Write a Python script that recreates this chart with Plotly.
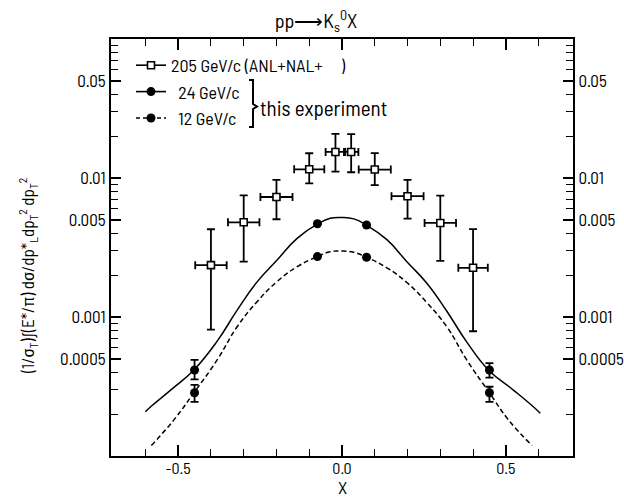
import plotly.graph_objects as go

# ---------------- data ----------------
# 205 GeV/c (ANL+NAL) open squares
x205 = [-0.40, -0.30, -0.20, -0.10, -0.02, 0.028, 0.10, 0.20, 0.30, 0.40]
y205 = [0.00236, 0.0048, 0.0073, 0.01155, 0.0154, 0.0154, 0.0115, 0.0074, 0.00475, 0.00226]
y205_hi = [0.00428, 0.00751, 0.00968, 0.01507, 0.0208, 0.0207, 0.0151, 0.00968, 0.00746, 0.00429]
y205_lo = [0.00081, 0.0025, 0.00505, 0.00916, 0.0111, 0.0110, 0.0089, 0.00511, 0.00253, 0.00079]
xerr205 = [0.048, 0.048, 0.049, 0.046, 0.030, 0.022, 0.049, 0.049, 0.048, 0.045]

# 24 GeV/c (this experiment) filled circles
x24 = [-0.45, -0.075, 0.075, 0.45]
y24 = [0.000416, 0.00469, 0.00459, 0.000416]
y24_up = [0.000075, None, None, 0.00005]
y24_dn = [0.00006, None, None, 0.00005]

# 12 GeV/c (this experiment) filled circles
x12 = [-0.45, -0.075, 0.075, 0.45]
y12 = [0.000285, 0.00272, 0.00269, 0.000285]
y12_up = [0.00004, None, None, 0.00003]
y12_dn = [0.00004, None, None, 0.00004]

# fitted curves
solid_x = [-0.600, -0.584, -0.523, -0.452, -0.381, -0.320, -0.259, -0.198, -0.137, -0.073,
           -0.036, 0.000, 0.036, 0.074, 0.137, 0.198, 0.259, 0.320, 0.381, 0.447, 0.523,
           0.584, 0.605]
solid_y = [0.000208, 0.000226, 0.000298, 0.000416, 0.000670, 0.00112, 0.00179, 0.00257,
           0.00368, 0.00469, 0.00513, 0.00520, 0.00508, 0.00459, 0.00360, 0.00250, 0.00175,
           0.00110, 0.00066, 0.000416, 0.000298, 0.000226, 0.000203]
dashed_x = [-0.582, -0.513, -0.452, -0.381, -0.320, -0.259, -0.198, -0.137, -0.075, -0.036,
            0.000, 0.036, 0.075, 0.137, 0.198, 0.259, 0.320, 0.381, 0.450, 0.508, 0.580]
dashed_y = [0.000119, 0.000182, 0.000285, 0.000491, 0.000851, 0.00129, 0.00180, 0.00230,
            0.00272, 0.00295, 0.00298, 0.00292, 0.00269, 0.00226, 0.00177, 0.00127, 0.00085,
            0.00049, 0.000285, 0.000182, 0.000119]

# axis ticks
y_major = [0.0005, 0.001, 0.005, 0.01, 0.05]
y_major_text = ["0.0005", "0.001", "0.005", "0.01", "0.05"]
x_major = [-0.5, 0.0, 0.5]
x_major_text = ["-0.5", "0.0", "0.5"]
x_minor = [-0.6, -0.4, -0.3, -0.2, -0.1, 0.1, 0.2, 0.3, 0.4, 0.6]
y_minor = [k * 10.0 ** e for e in (-4, -3, -2) for k in range(1, 10)] + [0.1]
y_minor = [v for v in y_minor if all(abs(v - m) > 1e-9 for m in y_major)]

legend_names = ["205 GeV/c (ANL+NAL+\u00a0\u00a0\u00a0\u00a0\u00a0)", "\u00a0\u00a024 GeV/c",
                "\u00a0\u00a012 GeV/c"]

FONT = "Barlow Semi Condensed, Fira Sans Condensed, Liberation Sans, sans-serif"
W, H = 624, 499
ML, MR, MT, MB = 111, 51, 39, 43
PW, PH = W - ML - MR, H - MT - MB


def px(xpix):
    return (xpix - ML) / PW


def py(ypix):
    return (H - MB - ypix) / PH


fig = go.Figure()

fig.add_trace(go.Scatter(
    x=solid_x, y=solid_y, mode="lines",
    line=dict(color="black", width=1.5, shape="spline", smoothing=1.3),
    showlegend=False, hoverinfo="skip"))
fig.add_trace(go.Scatter(
    x=dashed_x, y=dashed_y, mode="lines",
    line=dict(color="black", width=1.5, dash="5px,3px", shape="spline", smoothing=1.3),
    showlegend=False, hoverinfo="skip"))

fig.add_trace(go.Scatter(
    x=x205, y=y205, mode="markers",
    marker=dict(symbol="square", size=7, color="white", line=dict(color="black", width=1.6)),
    error_x=dict(type="data", array=xerr205, color="black", thickness=1.8, width=4),
    error_y=dict(type="data", array=[h - v for h, v in zip(y205_hi, y205)],
                 arrayminus=[v - l for v, l in zip(y205, y205_lo)],
                 color="black", thickness=1.8, width=4),
    showlegend=False))

fig.add_trace(go.Scatter(
    x=x24, y=y24, mode="markers", marker=dict(symbol="circle", size=9, color="black"),
    error_y=dict(type="data", array=y24_up, arrayminus=y24_dn, color="black", thickness=1.8, width=4),
    showlegend=False))
fig.add_trace(go.Scatter(
    x=x12, y=y12, mode="markers", marker=dict(symbol="circle", size=9, color="black"),
    error_y=dict(type="data", array=y12_up, arrayminus=y12_dn, color="black", thickness=1.8, width=4),
    showlegend=False))

# legend entries
fig.add_trace(go.Scatter(
    x=[None], y=[None], mode="lines+markers", name=legend_names[0], legendgroup="a",
    line=dict(color="black", width=1.6),
    marker=dict(symbol="square", size=7, color="white", line=dict(color="black", width=1.6))))
fig.add_trace(go.Scatter(
    x=[None], y=[None], mode="lines+markers", name=legend_names[1], legendgroup="b",
    line=dict(color="black", width=1.6), marker=dict(symbol="circle", size=9, color="black")))
fig.add_trace(go.Scatter(
    x=[None], y=[None], mode="lines+markers", name=legend_names[2], legendgroup="c",
    line=dict(color="black", width=1.6, dash="4px,3px"),
    marker=dict(symbol="circle", size=9, color="black")))
# dummy trace on the right axis
fig.add_trace(go.Scatter(x=[None], y=[None], yaxis="y2", showlegend=False, hoverinfo="skip"))

yaxis_common = dict(
    type="log", range=[-4, -1], tickmode="array", tickvals=y_major, ticktext=y_major_text,
    ticks="inside", ticklen=10, tickwidth=1.6, tickcolor="black", automargin=False,
    showline=True, linecolor="black", linewidth=2, showgrid=False, zeroline=False,
    tickfont=dict(family=FONT, size=17, color="black"),
    minor=dict(tickmode="array", tickvals=y_minor, ticks="inside", ticklen=7,
               tickwidth=1.4, tickcolor="black", showgrid=False),
)

fig.update_layout(
    template="none",
    width=W, height=H, margin=dict(l=ML, r=MR, t=MT, b=MB, autoexpand=False),
    paper_bgcolor="white", plot_bgcolor="white",
    font=dict(family=FONT, size=17, color="black"),
    title=dict(text="pp\u27f6K<sub>s</sub><sup>0</sup>X", xref="paper", x=px(316),
               xanchor="center", yref="container", y=1 - 21 / H, yanchor="middle",
               font=dict(family=FONT, size=20)),
    xaxis=dict(
        range=[-0.705, 0.705], tickmode="array", tickvals=x_major, ticktext=x_major_text,
        ticks="inside", ticklen=11, tickwidth=1.6, tickcolor="black", automargin=False,
        showline=True, linecolor="black", linewidth=2, mirror="ticks",
        showgrid=False, zeroline=False, ticklabelstandoff=-3,
        tickfont=dict(family=FONT, size=16, color="black"),
        minor=dict(tickmode="array", tickvals=x_minor, ticks="inside", ticklen=7,
                   tickwidth=1.4, tickcolor="black", showgrid=False),
    ),
    yaxis=yaxis_common,
    yaxis2=dict(yaxis_common, overlaying="y", side="right", anchor="x"),
    legend=dict(x=px(131), y=py(47), xanchor="left", yanchor="top",
                bgcolor="rgba(0,0,0,0)", borderwidth=0, tracegroupgap=0,
                font=dict(family=FONT, size=18, color="black")),
    showlegend=True,
)

# x-axis label
fig.add_annotation(xref="paper", yref="paper", x=px(342), y=py(499), xanchor="center",
                   yanchor="bottom", showarrow=False, text="X", borderpad=0,
                   font=dict(family=FONT, size=18))

# y-axis label
fig.add_annotation(
    xref="paper", yref="paper", x=px(27), y=py(276), textangle=-90, showarrow=False,
    xanchor="center", yanchor="middle",
    text="(1/\u03c3<sub>T</sub>)\u222b(E*/\u03c0) d\u03c3/dp*<sub>L</sub>dp<sub>T</sub><sup>2</sup> dp<sub>T</sub><sup>2</sup>",
    font=dict(family=FONT, size=17))

# brace and "this experiment"
fig.add_shape(type="path", xref="paper", yref="paper",
              path="M {a},{t} L {b},{t} L {b},{m1} L {c},{m} L {b},{m2} L {b},{bt} L {a},{bt}".format(
                  a=px(249), b=px(253), c=px(257), t=py(80), m1=py(104), m=py(106.5),
                  m2=py(109), bt=py(127)),
              line=dict(color="black", width=2))
fig.add_annotation(xref="paper", yref="paper", x=px(258), y=py(107), xanchor="left",
                   yanchor="middle", showarrow=False, text="this experiment",
                   font=dict(family=FONT, size=21))

fig.write_html("out.html")
